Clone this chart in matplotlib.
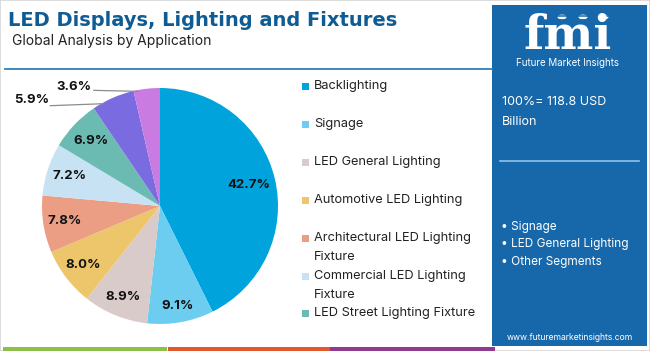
import matplotlib
matplotlib.use("Agg")
import matplotlib.pyplot as plt
from matplotlib.patches import Rectangle, Circle
import numpy as np

plt.rcParams["font.family"] = ["Inter", "DejaVu Sans"]

# data
segments = [
    "Backlighting",
    "Signage",
    "LED General Lighting",
    "Automotive LED Lighting",
    "Architectural LED Lighting Fixture",
    "Commercial LED Lighting Fixture",
    "LED Street Lighting Fixture",
    "Other 1",
    "Other 2",
]
shares = [42.7, 9.1, 8.9, 8.0, 7.8, 7.2, 6.9, 5.9, 3.6]
colors = ["#00A3DC", "#6DCDF0", "#D9CBC9", "#EDC66B", "#EC9E85",
          "#C7E3F3", "#6BBBB3", "#7A6BE0", "#C97BE2"]
legend_labels = [
    "Backlighting",
    "Signage",
    "LED General Lighting",
    "Automotive LED Lighting",
    "Architectural LED Lighting\nFixture",
    "Commercial LED Lighting\nFixture",
    "LED Street Lighting Fixture",
]
panel_bullets = ["Signage", "LED General Lighting", "Other Segments"]
total_lines = ["100%= 118.8 USD", "Billion"]

W, H = 650, 351
fig = plt.figure(figsize=(W / 100, H / 100), dpi=100)
fig.patch.set_facecolor("white")


def fx(x):
    return x / W


def fy(y):
    return 1 - y / H


# frame
fig.add_artist(Rectangle((0, 0), 1, 1, transform=fig.transFigure, fill=False,
                         edgecolor="#D5D5D5", linewidth=1.2))

# title block
fig.text(fx(8), fy(26), "LED Displays, Lighting and Fixtures", fontsize=14,
         fontweight="bold", color="#0F5C94", family="DejaVu Sans")
fig.text(fx(12), fy(45), "Global Analysis by Application", fontsize=10, color="#222222")
fig.add_artist(plt.Line2D([fx(5), fx(492)], [fy(69), fy(69)], transform=fig.transFigure,
                          color="#2F7FB5", linewidth=1.3))

# bottom strip
for x0, x1, c in [(3, 167, "#8DC04B"), (168, 330, "#E2582C"), (330, 495, "#8E3A8E")]:
    fig.add_artist(Rectangle((fx(x0), 0), fx(x1 - x0), 4 / H, transform=fig.transFigure,
                             color=c, linewidth=0))

# pie
cx, cy, r = 160, 206, 118
ax = fig.add_axes([fx(cx - r), 1 - (cy + r) / H, 2 * r / W, 2 * r / H])
wedges, _ = ax.pie(shares, colors=colors, startangle=90, counterclock=False,
                   wedgeprops=dict(linewidth=0))
ax.set_xlim(-1, 1)
ax.set_ylim(-1, 1)
ax.set_aspect("equal")
ax.axis("off")

dist = [0.77, 0.86, 0.83, 0.82, 0.82, 0.81, 0.8]
for i, w in enumerate(wedges):
    mid = np.deg2rad((w.theta1 + w.theta2) / 2)
    if i < len(dist):
        ax.text(dist[i] * np.cos(mid), dist[i] * np.sin(mid), f"{shares[i]:.1f}%",
                ha="center", va="center", fontsize=9.5, fontweight="bold", color="#111111")

# small slices: labels outside with leader lines
outer = {7: (-1.09, 0.90, -0.93, 0.85, 0.75), 8: (-0.73, 1.01, -0.56, 0.98, 0.85)}
for i, (tx, ty, lx, ly, frac) in outer.items():
    w = wedges[i]
    ang = np.deg2rad(w.theta1 + frac * (w.theta2 - w.theta1))
    ex, ey = 0.99 * np.cos(ang), 0.99 * np.sin(ang)
    ax.plot([lx, ex], [ly, ey], color="#8C8C8C", lw=0.9, clip_on=False, zorder=5)
    ax.text(tx, ty, f"{shares[i]:.1f}%", ha="center", va="center", fontsize=9.5,
            fontweight="bold", color="#111111", clip_on=False)

# legend
rows = [86, 124, 162, 200, 238, 276, 313]
for lab, c, y in zip(legend_labels, colors, rows):
    fig.add_artist(Rectangle((fx(302), fy(y + 3.5)), fx(7), 7 / H, transform=fig.transFigure,
                             color=c, linewidth=0))
    for k, p in enumerate(lab.split("\n")):
        fig.text(fx(314), fy(y + 19 * k), p, fontsize=9.2, color="#222222", va="center")

# right panel
panel_color = "#1668AA"
fig.add_artist(Rectangle((fx(492), fy(346)), fx(155), (346 - 5) / H, transform=fig.transFigure,
                         color=panel_color, linewidth=0))
fig.text(fx(568), fy(49), "fmi", fontsize=34, fontweight="bold", family="DejaVu Serif",
         color="white", ha="center", va="baseline")
for yy in np.arange(13, 50, 3.4):
    fig.add_artist(plt.Line2D([fx(508), fx(630)], [fy(yy), fy(yy)], transform=fig.transFigure,
                              color=panel_color, linewidth=1.1))
for x0 in (562, 583, 604):
    fig.add_artist(Circle((fx(x0), fy(17)), 4.5 / W, transform=fig.transFigure,
                          facecolor="white", edgecolor="white", linewidth=0))
fig.text(fx(568), fy(63), "Future Market Insights", fontsize=7, color="white",
         ha="center", va="center")
for k, t in enumerate(total_lines):
    fig.text(fx(502), fy(102 + 20 * k), t, fontsize=9, color="white", va="center")
fig.add_artist(plt.Line2D([fx(500), fx(639)], [fy(161), fy(161)], transform=fig.transFigure,
                          color="#8FC3E8", linewidth=1.2))
for k, b in enumerate(panel_bullets):
    fig.text(fx(501), fy(227 + 17.5 * k), "\u2022 " + b, fontsize=8.5, color="white", va="center")
fig.text(fx(570), fy(337), "www.futuremarketinsights.com", fontsize=6.2, color="white",
         ha="center", va="center")

fig.savefig("out.png", dpi=100)
